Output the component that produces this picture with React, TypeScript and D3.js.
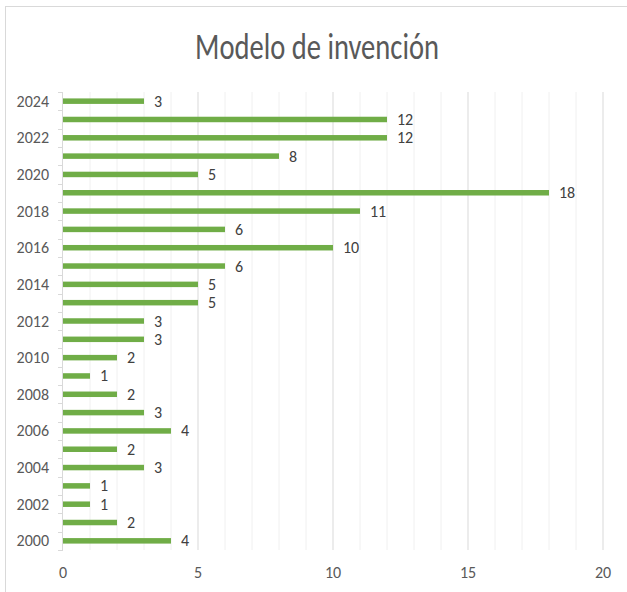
import React from "react";
import * as d3 from "d3";

const years = [2000, 2001, 2002, 2003, 2004, 2005, 2006, 2007, 2008, 2009, 2010, 2011, 2012, 2013, 2014, 2015, 2016, 2017, 2018, 2019, 2020, 2021, 2022, 2023, 2024];
const counts = [4, 2, 1, 1, 3, 2, 4, 3, 2, 1, 2, 3, 3, 5, 5, 6, 10, 6, 11, 18, 5, 8, 12, 12, 3];
const xTicks = [0, 5, 10, 15, 20];
const title = "Modelo de invención";

const W = 627;
const H = 592;
const plot = { left: 63, right: 603, top: 92, bottom: 550 };

export default function App() {
  const x = d3.scaleLinear().domain([0, 20]).range([plot.left, plot.right]);
  const y = d3
    .scaleBand<number>()
    .domain([...years].reverse())
    .range([plot.top, plot.bottom])
    .paddingInner(0)
    .paddingOuter(0);
  const bw = y.bandwidth();
  const barH = 5.5;
  const minor = d3.range(0, 21);
  const font = "Carlito, Calibri, 'Open Sans', 'Noto Sans', sans-serif";

  return (
    <svg width={W} height={H} style={{ position: "absolute", left: 0, top: 0 }} fontFamily={font}>
      <rect x={0} y={0} width={W} height={H} fill="#fff" />
      <rect x={5.5} y={6.5} width={W + 10} height={H + 10} fill="none" stroke="#d9d9d9" strokeWidth={1} />
      <text x={317} y={59} textAnchor="middle" fontSize={36} fontWeight={300} fill="#595959" textLength={244} lengthAdjust="spacingAndGlyphs">
        {title}
      </text>
      {minor.map((v) =>
        v === 0 ? null : (
          <line
            key={v}
            x1={x(v)}
            x2={x(v)}
            y1={plot.top}
            y2={plot.bottom}
            stroke={v % 5 === 0 ? "#d9d9d9" : "#f0f0f0"}
            strokeWidth={1}
          />
        )
      )}
      <line x1={plot.left - 0.5} x2={plot.left - 0.5} y1={plot.top} y2={plot.bottom} stroke="#d9d9d9" />
      {d3.range(0, years.length + 1).map((i) => {
        const yy = Math.round(plot.top + i * bw) + 0.5;
        return <line key={i} x1={plot.left - 5} x2={plot.left} y1={yy} y2={yy} stroke="#d9d9d9" />;
      })}
      {years.map((yr, i) => {
        const cy = (y(yr) as number) + bw / 2;
        return (
          <g key={yr}>
            <rect x={x(0)} y={cy - barH / 2} width={x(counts[i]) - x(0)} height={barH} fill="#70ad47" />
            <text x={x(counts[i]) + 10} y={cy + 5.5} fontSize={16} fill="#404040">
              {counts[i]}
            </text>
            {yr % 2 === 0 ? (
              <text x={49} y={cy + 5.5} textAnchor="end" fontSize={16} fill="#595959">
                {yr}
              </text>
            ) : null}
          </g>
        );
      })}
      {xTicks.map((t) => (
        <text key={t} x={x(t)} y={578} textAnchor="middle" fontSize={16} fill="#595959">
          {t}
        </text>
      ))}
    </svg>
  );
}
